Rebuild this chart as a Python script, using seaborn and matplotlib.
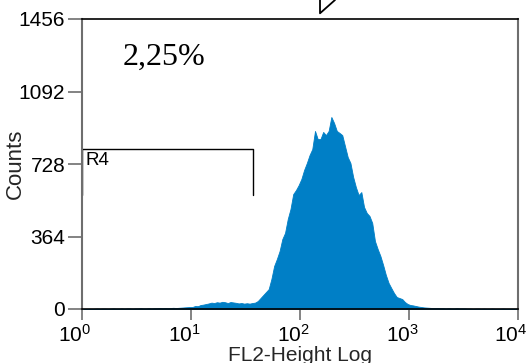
import numpy as np
import matplotlib
matplotlib.use("Agg")
import matplotlib.pyplot as plt
import seaborn as sns
from matplotlib.lines import Line2D
from matplotlib.ticker import NullLocator
from matplotlib.transforms import ScaledTranslation

# ---- data ----
# counts per channel: 160 log-spaced channels covering 10^0 .. 10^4 (1/40 decade each)
counts = [
    0, 0, 1, 0, 1, 2, 1, 2, 2, 1,
    2, 3, 2, 2, 3, 2, 3, 3, 2, 3,
    3, 4, 3, 3, 4, 3, 4, 4, 5, 4,
    5, 4, 5, 6, 5, 6, 7, 8, 9, 10,
    10, 15, 14, 20, 22, 25, 28, 32, 30, 34,
    32, 36, 34, 30, 35, 33, 31, 28, 30, 27,
    29, 27, 30, 32, 40, 55, 70, 85, 100, 151,
    216, 251, 291, 351, 382, 452, 502, 577, 597, 622,
    653, 698, 733, 773, 803, 894, 853, 853, 889, 873,
    894, 964, 934, 894, 884, 873, 818, 763, 733, 663,
    612, 572, 587, 512, 482, 467, 432, 341, 301, 266,
    221, 171, 131, 105, 80, 60, 55, 50, 35, 25,
    20, 18, 15, 12, 10, 8, 7, 6, 5, 5,
    5, 4, 4, 3, 4, 3, 3, 4, 3, 3,
    3, 2, 2, 1, 2, 2, 1, 2, 1, 1,
    2, 1, 1, 1, 2, 1, 1, 1, 1, 1,
]
decade_min, decade_max = 0, 4
y_ticks = [0, 364, 728, 1092, 1456]
x_ticks = [1, 10, 100, 1000, 10000]
x_tick_labels = [r"$\mathregular{10^{0}}$", r"$\mathregular{10^{1}}$", r"$\mathregular{10^{2}}$",
                 r"$\mathregular{10^{3}}$", r"$\mathregular{10^{4}}$"]
gate_x = [1, 1, 37.3, 37.3]
gate_y = [572, 802, 802, 572]
gate_name = "R4"
percent_text = "2,25%"
x_label = "FL2-Height Log"
y_label = "Counts"

n = len(counts)
edges = np.linspace(decade_min, decade_max, n + 1)
centers = 10 ** ((edges[:-1] + edges[1:]) / 2)

# ---- style ----
sns.set_theme(style="white")
plt.rcParams["font.family"] = ["Liberation Sans", "DejaVu Sans"]
plt.rcParams["mathtext.fontset"] = "custom"
plt.rcParams["mathtext.rm"] = "Liberation Sans"
plt.rcParams["mathtext.it"] = "Liberation Sans"

fig = plt.figure(figsize=(5.28, 3.63), dpi=100)
ax = fig.add_axes([82 / 528, 1 - 309 / 363, 436 / 528, 290 / 363])

sns.histplot(x=centers, weights=counts, bins=n, binrange=(decade_min, decade_max),
             log_scale=True, element="poly", fill=True, color="#007FC6",
             alpha=1, linewidth=0.6, edgecolor="#007FC6", ax=ax)

ax.set_xlim(1, 10000)
ax.set_ylim(0, 1456)
ax.xaxis.set_minor_locator(NullLocator())
ax.set_yticks(y_ticks)
ax.set_xticks(x_ticks, x_tick_labels)

for side in ["top", "bottom"]:
    ax.spines[side].set_color("black")
    ax.spines[side].set_linewidth(1.2)
for side in ["left", "right"]:
    ax.spines[side].set_color("#6e6e6e")
    ax.spines[side].set_linewidth(1.5)

ax.tick_params(axis="y", left=True, length=10, width=1.2, color="#6e6e6e",
               pad=2, labelsize=15, labelcolor="black")
ax.tick_params(axis="x", bottom=True, length=8, width=1.2, color="#6e6e6e",
               pad=3, labelsize=15, labelcolor="black")
for lbl in ax.get_xticklabels():
    lbl.set_transform(lbl.get_transform() + ScaledTranslation(-7 / 100, 0, fig.dpi_scale_trans))

ax.set_xlabel(x_label, fontsize=15)
ax.set_ylabel(y_label, fontsize=16)
ax.xaxis.set_label_coords(0.5, -0.127)
ax.yaxis.set_label_coords(-0.128, 0.5)

# gate marker
ax.plot(gate_x, gate_y, color="black", lw=1.0, clip_on=False)
ax.text(1.088, 790, gate_name, fontsize=13.5, va="top", ha="left", color="black")

# percentage text
ax.text(0.094, 0.841, percent_text, transform=ax.transAxes, fontsize=23,
        family=["Liberation Serif", "DejaVu Serif"], va="baseline", ha="left", color="black")

# partial marker at the top edge
fig.add_artist(Line2D([320 / 528, 320 / 528, 335 / 528], [1.0, 1 - 13.3 / 363, 1.0],
                      transform=fig.transFigure, color="black", lw=1.3))

fig.savefig("out.png", dpi=100)
